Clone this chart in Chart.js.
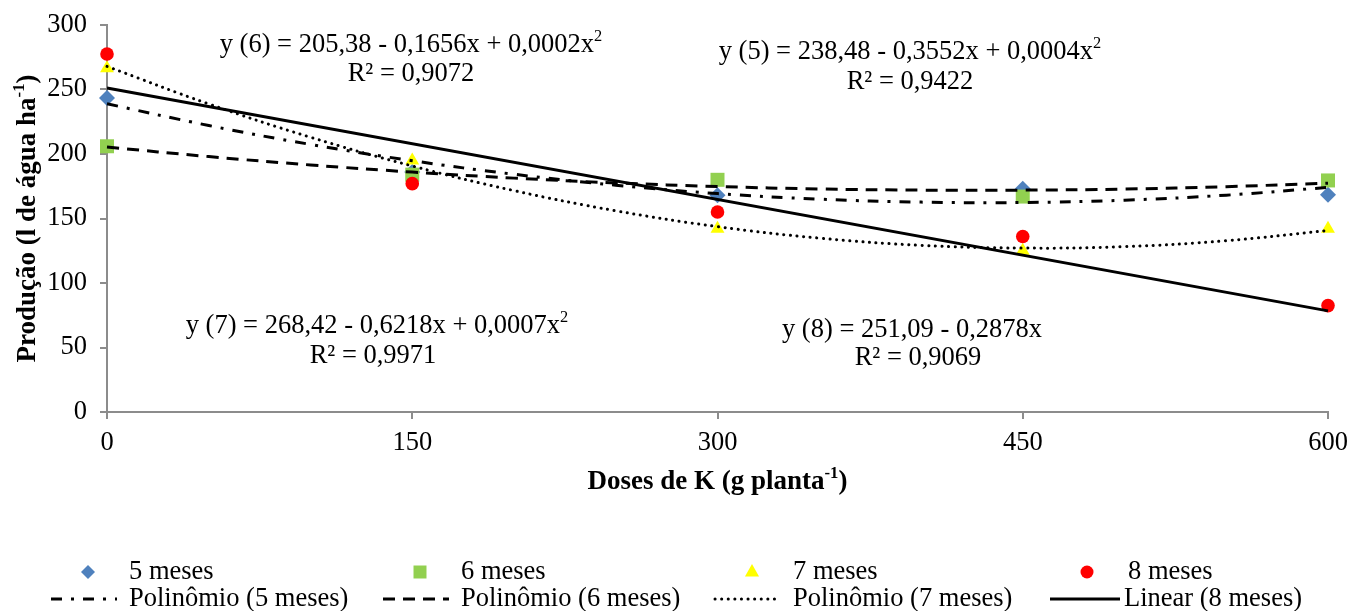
<!DOCTYPE html>
<html>
<head>
<meta charset="utf-8">
<script src="https://cdn.jsdelivr.net/npm/chart.js@4/dist/chart.umd.min.js"></script>
<style>
  html, body { margin: 0; background: #fff; }
  #grafico { display: block; }
</style>
</head>
<body>
<canvas id="grafico" width="1352" height="611"></canvas>
<script>
// doses de K (g planta-1) e produção observada por idade
const doses = [0, 150, 300, 450, 600];
const meses5 = [243.5, 186, 168, 173, 168.5];
const meses6 = [206, 184, 180, 167, 179.5];
const meses7 = [266.5, 195, 142, 125, 142];
const meses8 = [277.5, 177, 155, 136, 82.5];

// linhas de tendência
const dosesTendencia = [0, 50, 100, 150, 200, 250, 300, 350, 400, 450, 500, 550, 600];
const tendencia5 = [238.9, 222.1, 207.4, 194.8, 184.3, 175.8, 169.3, 165.0, 162.7, 162.4, 164.2, 168.1, 174.1];
const tendencia6 = [205.4, 198.0, 191.5, 186.0, 181.3, 177.6, 174.8, 172.9, 172.0, 172.0, 172.8, 174.7, 177.4];
const tendencia7 = [267.9, 238.8, 213.0, 190.7, 171.6, 156.0, 143.7, 134.8, 129.2, 127.1, 128.2, 132.8, 140.7];
const dosesLinear = [0, 600];
const linear8 = [251.1, 78.4];

const ticksY = [0, 50, 100, 150, 200, 250, 300];
const ticksX = [0, 150, 300, 450, 600];

const nomesSeries = ['5 meses', '6 meses', '7 meses', '8 meses'];
const nomesTendencias = ['Polinômio (5 meses)', 'Polinômio (6 meses)', 'Polinômio (7 meses)', 'Linear (8 meses)'];

const equacoes = [
  ['y (6) = 205,38 - 0,1656x + 0,0002x^{2}', 'R² = 0,9072', 0, 411],
  ['y (5) = 238,48 - 0,3552x + 0,0004x^{2}', 'R² = 0,9422', 1, 910],
  ['y (7) = 268,42 - 0,6218x + 0,0007x^{2}', 'R² = 0,9971', 2, 377],
  ['y (8) = 251,09 - 0,2878x', 'R² = 0,9069', 3, 912]
];
const posEquacoes = [[45, 74], [52, 82], [326, 356], [330, 358]];

const tituloX = 'Doses de K (g planta^{-1})';
const tituloY = 'Produção (l de água ha^{-1})';

const serif = "'Liberation Serif', 'Times New Roman', serif";
const corEixo = '#8c8c8c';
const tamTexto = 26.5;

function pares(xs, ys) {
  return xs.map((x, i) => ({ x: x, y: ys[i] }));
}

// desenha texto com trechos sobrescritos marcados como ^{...}
function textoRico(ctx, texto, x, y, tam, negrito, alinhar) {
  const partes = [];
  const re = /\^\{([^}]*)\}/g;
  let ultimo = 0, m;
  while ((m = re.exec(texto)) !== null) {
    if (m.index > ultimo) partes.push([texto.slice(ultimo, m.index), false]);
    partes.push([m[1], true]);
    ultimo = re.lastIndex;
  }
  if (ultimo < texto.length) partes.push([texto.slice(ultimo), false]);
  const peso = negrito ? 'bold ' : '';
  const fonte = s => peso + (s ? (tam * 0.62).toFixed(1) : tam) + 'px ' + serif;
  let largura = 0;
  partes.forEach(p => { ctx.font = fonte(p[1]); largura += ctx.measureText(p[0]).width; });
  let cx = alinhar === 'center' ? x - largura / 2 : x;
  ctx.textAlign = 'left';
  ctx.textBaseline = 'middle';
  partes.forEach(p => {
    ctx.font = fonte(p[1]);
    ctx.fillText(p[0], cx, p[1] ? y - tam * 0.32 : y);
    cx += ctx.measureText(p[0]).width;
  });
}

function marcador(ctx, forma, cor, x, y) {
  ctx.fillStyle = cor;
  ctx.beginPath();
  if (forma === 'rectRot') {
    ctx.moveTo(x, y - 7); ctx.lineTo(x + 7, y); ctx.lineTo(x, y + 7); ctx.lineTo(x - 7, y);
  } else if (forma === 'rect') {
    ctx.rect(x - 6.5, y - 6.5, 13, 13);
  } else if (forma === 'triangle') {
    ctx.moveTo(x, y - 8); ctx.lineTo(x + 7, y + 4.5); ctx.lineTo(x - 7, y + 4.5);
  } else {
    ctx.arc(x, y, 6.5, 0, Math.PI * 2);
  }
  ctx.closePath();
  ctx.fill();
}

const textosExtras = {
  id: 'textosExtras',
  afterDraw(chart) {
    const ctx = chart.ctx;
    const area = chart.chartArea;
    ctx.save();
    ctx.fillStyle = '#000';
    equacoes.forEach((eq, i) => {
      textoRico(ctx, eq[0], eq[3], posEquacoes[i][0], tamTexto, false, 'center');
      textoRico(ctx, eq[1], eq[3] + (i === 2 ? -4 : i === 3 ? 6 : 0), posEquacoes[i][1], tamTexto, false, 'center');
    });

    // títulos dos eixos
    textoRico(ctx, tituloX, (area.left + area.right) / 2, 482, 27, true, 'center');
    ctx.save();
    ctx.translate(28, (area.top + area.bottom) / 2);
    ctx.rotate(-Math.PI / 2);
    textoRico(ctx, tituloY, 0, 0, 27, true, 'center');
    ctx.restore();

    // legenda em 4 colunas
    const colunas = [129, 461, 793, 1128];
    const sets = chart.data.datasets;
    colunas.forEach((cx, i) => {
      const ds = sets[i];
      marcador(ctx, ds.pointStyle, ds.backgroundColor, cx - 41, 572);
      ctx.fillStyle = '#000';
      textoRico(ctx, nomesSeries[i], cx, 572, tamTexto, false, 'left');

      const tl = sets[4 + i];
      ctx.save();
      ctx.strokeStyle = tl.borderColor;
      ctx.lineWidth = tl.borderWidth;
      ctx.lineCap = tl.borderCapStyle || 'butt';
      ctx.setLineDash(tl.borderDash || []);
      ctx.beginPath();
      ctx.moveTo(cx - 78, 599);
      ctx.lineTo(cx - (i === 3 ? 8 : 12), 599);
      ctx.stroke();
      ctx.restore();
      textoRico(ctx, nomesTendencias[i], cx - (i === 3 ? 4 : 0), 599, tamTexto, false, 'left');
    });
    ctx.restore();
  }
};

const eixoComum = {
  type: 'linear',
  grid: { display: true, drawOnChartArea: false, drawTicks: true, tickLength: 7, color: corEixo, lineWidth: 2 },
  border: { display: true, color: corEixo, width: 2 }
};

new Chart(document.getElementById('grafico'), {
  type: 'scatter',
  data: {
    datasets: [
      { label: nomesSeries[0], data: pares(doses, meses5), pointStyle: 'rectRot', pointRadius: 8, backgroundColor: '#4f81bd', borderColor: '#4f81bd', borderWidth: 0, clip: false, order: 4 },
      { label: nomesSeries[1], data: pares(doses, meses6), pointStyle: 'rect', pointRadius: 9.9, backgroundColor: '#92d050', borderColor: '#92d050', borderWidth: 0, clip: false, order: 3 },
      { label: nomesSeries[2], data: pares(doses, meses7), pointStyle: 'triangle', pointRadius: 8, backgroundColor: '#ffff00', borderColor: '#ffff00', borderWidth: 0, clip: false, order: 2 },
      { label: nomesSeries[3], data: pares(doses, meses8), pointStyle: 'circle', pointRadius: 6.8, backgroundColor: '#ff0000', borderColor: '#ff0000', borderWidth: 0, clip: false, order: 1 },
      { type: 'line', label: nomesTendencias[0], data: pares(dosesTendencia, tendencia5), borderColor: '#000', borderWidth: 3, borderDash: [11, 9, 3, 9], pointRadius: 0, tension: 0.4, fill: false, clip: false, order: 0 },
      { type: 'line', label: nomesTendencias[1], data: pares(dosesTendencia, tendencia6), borderColor: '#000', borderWidth: 3, borderDash: [12, 8], pointRadius: 0, tension: 0.4, fill: false, clip: false, order: 0 },
      { type: 'line', label: nomesTendencias[2], data: pares(dosesTendencia, tendencia7), borderColor: '#000', borderWidth: 3, borderDash: [0.1, 6.5], borderCapStyle: 'round', pointRadius: 0, tension: 0.4, fill: false, clip: false, order: 0 },
      { type: 'line', label: nomesTendencias[3], data: pares(dosesLinear, linear8), borderColor: '#000', borderWidth: 3, pointRadius: 0, tension: 0, fill: false, clip: false, order: 0 }
    ]
  },
  options: {
    responsive: false,
    animation: false,
    devicePixelRatio: 1,
    layout: { padding: { top: 25, right: 24, bottom: 99, left: 0 } },
    plugins: { legend: { display: false }, tooltip: { enabled: false } },
    scales: {
      x: Object.assign({}, eixoComum, {
        min: 0, max: 600,
        afterFit: s => { s.height = 100; s.paddingLeft = 0; s.paddingRight = 0; },
        afterBuildTicks: s => { s.ticks = ticksX.map(v => ({ value: v })); },
        ticks: { color: '#000', padding: 8, maxRotation: 0, font: { family: serif, size: tamTexto } }
      }),
      y: Object.assign({}, eixoComum, {
        min: 0, max: 300,
        afterFit: s => { s.width = 107; s.paddingTop = 0; s.paddingBottom = 0; },
        afterBuildTicks: s => { s.ticks = ticksY.map(v => ({ value: v })); },
        ticks: { color: '#000', padding: 13, font: { family: serif, size: tamTexto } }
      })
    }
  },
  plugins: [textosExtras]
});
</script>
</body>
</html>
